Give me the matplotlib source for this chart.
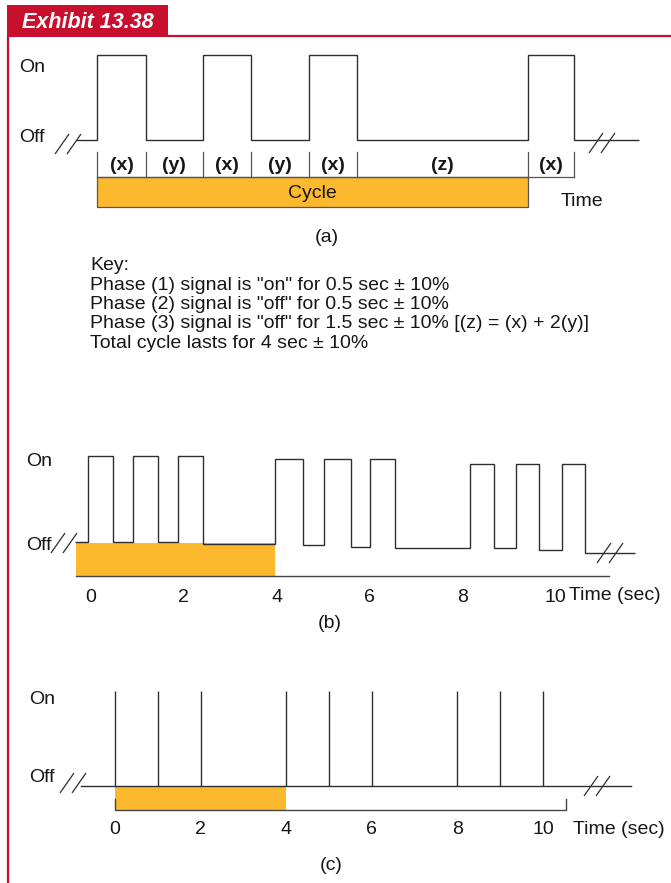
"""Exhibit 13.38 - signal timing diagram (three panels)."""

import matplotlib
matplotlib.use("Agg")
import matplotlib.pyplot as plt
from matplotlib.patches import Rectangle
from matplotlib.transforms import blended_transform_factory

plt.rcParams["font.family"] = ["Liberation Sans", "DejaVu Sans"]

W, H = 671, 883
RED = "#C8102E"
ORANGE = "#FDB92E"
INK = "#2e2e2e"
TEXT = "#161616"
FS = 14

# panel (a): one cycle, step edges in seconds and the state of each segment
A_EDGES = [-0.2, 0, 0.45, 0.98, 1.43, 1.97, 2.41, 4.0, 4.43, 5.04]
A_STATE = [0, 1, 0, 1, 0, 1, 0, 1, 0]
A_PHASES = ["(x)", "(y)", "(x)", "(y)", "(x)", "(z)", "(x)"]
A_CYCLE = (0, 4.0)

# panel (b): irregular pulses over ~10 s
B_EDGES = [-0.33, -0.05, 0.49, 0.91, 1.46, 1.89, 2.43, 3.97, 4.56, 5.02,
           5.60, 6.02, 6.55, 8.16, 8.68, 9.14, 9.65, 10.13, 10.63, 11.70]
B_LEVEL = [0, 1, 0, 1, 0, 1, -0.035, 0.96, -0.04, 0.96, -0.07, 0.96,
           -0.075, 0.91, -0.08, 0.91, -0.095, 0.91, -0.13]
B_CYCLE = (-0.31, 3.97)
B_LINE_END = 11.14
B_TICKS = [0, 2, 4, 6, 8, 10]

# panel (c): instantaneous pulses
C_PULSES = [0, 1, 2, 4, 5, 6, 8, 9, 10]
C_LINE = (-0.79, 12.06)
C_CYCLE = (0, 4)
C_BRACKET = (0, 10.53)
C_TICKS = [0, 2, 4, 6, 8, 10]

KEY_LINES = [
    "Key:",
    'Phase (1) signal is "on" for 0.5 sec ± 10%',
    'Phase (2) signal is "off" for 0.5 sec ± 10%',
    'Phase (3) signal is "off" for 1.5 sec ± 10% [(z) = (x) + 2(y)]',
    "Total cycle lasts for 4 sec ± 10%",
]


def panel_axes(fig, x0, scale, off_px, on_px):
    """full-figure axes: x in seconds, y in signal level (0 off, 1 on)"""
    ax = fig.add_axes([0, 0, 1, 1])
    ax.set_xlim(-x0 / scale, (W - x0) / scale)
    span = off_px - on_px
    ax.set_ylim((off_px - H) / span, off_px / span)
    ax.axis("off")
    ax.patch.set_visible(False)
    return ax


def draw_break(pix, cx, cy):
    """the // break marks on the off line"""
    for off in (-6, 6):
        pix.plot([cx + off - 7, cx + off + 7], [cy + 10, cy - 10],
                 color=INK, lw=0.9, solid_capstyle="butt")


fig = plt.figure(figsize=(W / 100, H / 100), dpi=100)
pix = fig.add_axes([0, 0, 1, 1])
pix.set_xlim(0, W)
pix.set_ylim(H, 0)
pix.axis("off")

# frame and header
pix.add_patch(Rectangle((7, 5), 161, 32, color=RED, lw=0))
pix.plot([168, W], [36, 36], color=RED, lw=1.6)
pix.plot([7.5, 7.5], [36, H], color=RED, lw=1.6)
pix.text(22, 22, "Exhibit 13.38", color="white", fontsize=15.5,
         fontweight="bold", fontstyle="italic", va="center", ha="left")

# ---- panel (a)
ax_a = panel_axes(fig, 97.5, 107.5, 139.5, 55)
tr_a = blended_transform_factory(ax_a.transData, pix.transData)
ax_a.stairs(A_STATE, A_EDGES, baseline=None, color=INK, lw=1.0)
for t in A_EDGES[1:-1]:
    ax_a.plot([t, t], [152, 177], transform=tr_a, color="#555555", lw=0.9)
ax_a.plot([A_EDGES[1], A_EDGES[-2]], [177, 177], transform=tr_a,
          color="#555555", lw=0.9)
for lab, t0, t1 in zip(A_PHASES, A_EDGES[1:-2], A_EDGES[2:-1]):
    ax_a.text((t0 + t1) / 2, 165, lab, transform=tr_a, ha="center",
              va="center", fontsize=FS, fontweight="bold", color=TEXT)
ax_a.add_patch(Rectangle((A_CYCLE[0], 177), A_CYCLE[1] - A_CYCLE[0], 30,
                         transform=tr_a, facecolor=ORANGE,
                         edgecolor="#555555", lw=0.9))
ax_a.text(sum(A_CYCLE) / 2, 193, "Cycle", transform=tr_a, ha="center",
          va="center", fontsize=FS, color=TEXT)
pix.text(561, 202, "Time", fontsize=FS, va="center", color=TEXT)
pix.text(19, 67, "On", fontsize=FS, va="center", color=TEXT)
pix.text(19, 137, "Off", fontsize=FS, va="center", color=TEXT)
draw_break(pix, 68, 144)
draw_break(pix, 602, 143)
pix.text(327, 238, "(a)", fontsize=FS, ha="center", va="center", color=TEXT)

# key
for i, line in enumerate(KEY_LINES):
    pix.text(90, 266 + i * 19.3, line, fontsize=FS, va="center", color=TEXT)

# ---- panel (b)
ax_b = panel_axes(fig, 90.5, 46.5, 541.5, 456)
tr_b = blended_transform_factory(ax_b.transData, pix.transData)
ax_b.add_patch(Rectangle((B_CYCLE[0], 543), B_CYCLE[1] - B_CYCLE[0], 32.7,
                         transform=tr_b, facecolor=ORANGE, lw=0))
ax_b.stairs(B_LEVEL, B_EDGES, baseline=None, color=INK, lw=1.0)
ax_b.plot([B_CYCLE[0], B_LINE_END], [575.7, 575.7], transform=tr_b,
          color="#444444", lw=1.0)
for t in B_TICKS:
    ax_b.text(t, 597, str(t), transform=tr_b, ha="center", va="center",
              fontsize=FS, color=TEXT)
pix.text(569, 596, "Time (sec)", fontsize=FS, va="center", color=TEXT)
pix.text(26, 462, "On", fontsize=FS, va="center", color=TEXT)
pix.text(26, 545, "Off", fontsize=FS, va="center", color=TEXT)
draw_break(pix, 64, 543)
draw_break(pix, 610, 553)
pix.text(330, 623, "(b)", fontsize=FS, ha="center", va="center", color=TEXT)

# ---- panel (c)
ax_c = panel_axes(fig, 115, 42.8, 786, 691)
tr_c = blended_transform_factory(ax_c.transData, pix.transData)
ax_c.add_patch(Rectangle((C_CYCLE[0], 786), C_CYCLE[1] - C_CYCLE[0], 24,
                         transform=tr_c, facecolor=ORANGE, lw=0))
ax_c.vlines(C_PULSES, 0, 1, color=INK, lw=1.0)
ax_c.plot(C_LINE, [0, 0], color=INK, lw=1.0)
ax_c.plot([C_BRACKET[0], C_BRACKET[0], C_BRACKET[1], C_BRACKET[1]],
          [799, 810, 810, 799], transform=tr_c, color="#444444", lw=1.0)
for t in C_TICKS:
    ax_c.text(t, 830, str(t), transform=tr_c, ha="center", va="center",
              fontsize=FS, color=TEXT)
pix.text(573, 830, "Time (sec)", fontsize=FS, va="center", color=TEXT)
pix.text(29, 699, "On", fontsize=FS, va="center", color=TEXT)
pix.text(29, 777, "Off", fontsize=FS, va="center", color=TEXT)
draw_break(pix, 73, 783)
draw_break(pix, 597, 786)
pix.text(331, 865, "(c)", fontsize=FS, ha="center", va="center", color=TEXT)

fig.savefig("out.png", dpi=100)
